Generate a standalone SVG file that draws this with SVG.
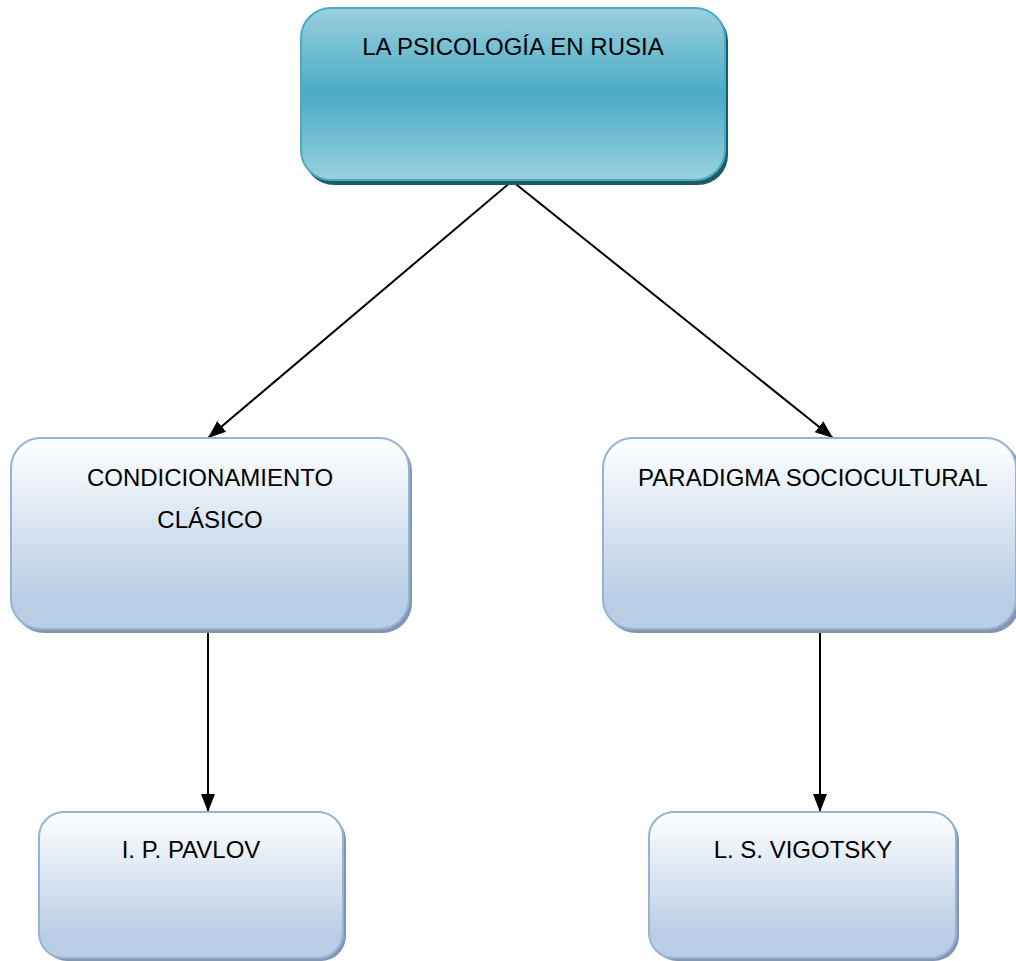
<svg xmlns="http://www.w3.org/2000/svg" width="1016" height="961" viewBox="0 0 1016 961">
<defs>
<linearGradient id="gTop" x1="0" y1="0" x2="0" y2="1">
<stop offset="0" stop-color="#9ad0de"/>
<stop offset="0.5" stop-color="#4aabc6"/>
<stop offset="1" stop-color="#9ad0de"/>
</linearGradient>
<linearGradient id="gBlue" x1="0" y1="0" x2="0" y2="1">
<stop offset="0" stop-color="#ffffff"/>
<stop offset="0.85" stop-color="#b9cde5"/>
<stop offset="1" stop-color="#b9cde5"/>
</linearGradient>
<marker id="arr2" viewBox="0 0 18 14" refX="18" refY="7" markerWidth="18" markerHeight="14" markerUnits="userSpaceOnUse" orient="auto">
<path d="M0,0 L18,7 L0,14 z" fill="#000"/>
</marker>
</defs>
<style>
.t{font-family:"Liberation Sans",Arial,sans-serif;font-size:24px;fill:#000;text-anchor:middle}
.box{fill:url(#gBlue);stroke:#95b3d7;stroke-width:2}
.sh{fill:#8396b0}
.shTop{fill:#215968}
.con{stroke:#000;stroke-width:2;fill:none;marker-end:url(#arr2)}
</style>
<rect width="1016" height="961" fill="#fff"/>
<g id="connectors">
<line class="con" x1="512" y1="181" x2="208" y2="438"/>
<line class="con" x1="512" y1="181" x2="833" y2="438"/>
<line class="con" x1="208" y1="630" x2="208" y2="812"/>
<line class="con" x1="820" y1="630" x2="820" y2="812"/>
</g>
<g id="node-top">
<rect class="shTop" x="304" y="11" width="424" height="174" rx="30"/>
<rect x="301" y="8" width="424" height="172" rx="30" fill="url(#gTop)" stroke="#4aabc6" stroke-width="2"/>
<text class="t" x="513" y="55">LA PSICOLOGÍA EN RUSIA</text>
</g>
<g id="node-condicionamiento">
<rect class="sh" x="14" y="441" width="398" height="192" rx="30"/>
<rect class="box" x="11" y="438" width="398" height="191" rx="30"/>
<text class="t" x="210" y="486">CONDICIONAMIENTO</text>
<text class="t" x="210" y="528">CLÁSICO</text>
</g>
<g id="node-paradigma">
<rect class="sh" x="606" y="441" width="414" height="192" rx="30"/>
<rect class="box" x="603" y="438" width="413" height="191" rx="30"/>
<text class="t" x="813" y="486">PARADIGMA SOCIOCULTURAL</text>
</g>
<g id="node-pavlov">
<rect class="sh" x="42" y="815" width="304" height="146" rx="25"/>
<rect class="box" x="39" y="812" width="304" height="146" rx="25"/>
<text class="t" x="191" y="858">I. P. PAVLOV</text>
</g>
<g id="node-vigotsky">
<rect class="sh" x="652" y="815" width="307" height="146" rx="25"/>
<rect class="box" x="649" y="812" width="307" height="146" rx="25"/>
<text class="t" x="803" y="858">L. S. VIGOTSKY</text>
</g>
</svg>
